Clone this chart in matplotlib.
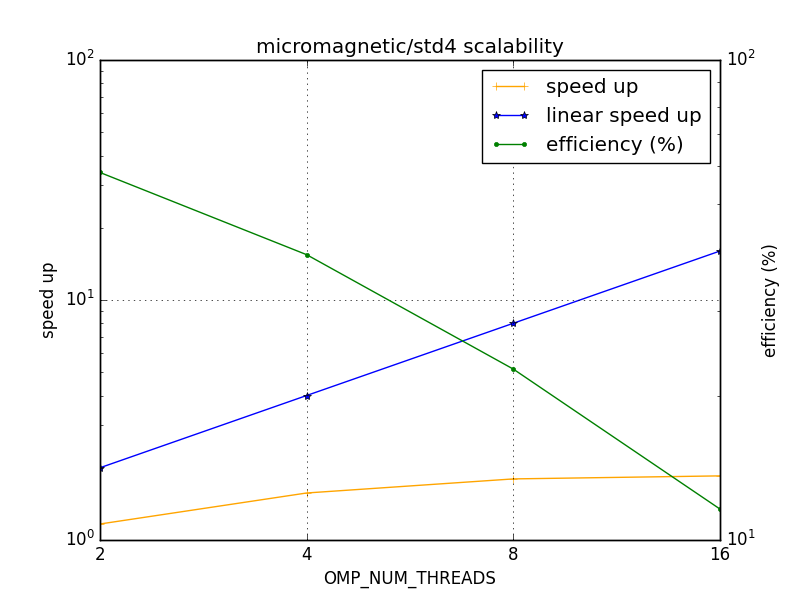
import matplotlib
matplotlib.use("Agg")
import matplotlib.pyplot as plt
from matplotlib.ticker import FixedLocator, FixedFormatter, NullLocator

plt.style.use('classic')

threads = [2, 4, 8, 16]
speed_up = [1.166, 1.57, 1.797, 1.85]
linear_speed_up = [2, 4, 8, 16]
efficiency = [58.3, 39.3, 22.7, 11.6]

fig = plt.figure(figsize=(8, 6), dpi=100, facecolor='white')
ax = fig.add_subplot(111)
l1, = ax.plot(threads, speed_up, color='orange', marker='+', label='speed up')
l2, = ax.plot(threads, linear_speed_up, color='b', marker='*', label='linear speed up')
ax.set_xscale('log', base=2)
ax.set_yscale('log')
ax.set_xlim(2, 16)
ax.set_ylim(1, 100)
ax.xaxis.set_major_locator(FixedLocator(threads))
ax.xaxis.set_major_formatter(FixedFormatter([str(t) for t in threads]))
ax.xaxis.set_minor_locator(NullLocator())
ax.grid(True)
ax.set_xlabel('OMP_NUM_THREADS')
ax.set_ylabel('speed up')
ax.set_title('micromagnetic/std4 scalability')

ax2 = ax.twinx()
l3, = ax2.plot(threads, efficiency, color='g', marker='.', label='efficiency (%)')
ax2.set_yscale('log')
ax2.set_ylim(10, 100)
ax2.set_xlim(2, 16)
ax2.set_ylabel('efficiency (%)')

ax2.legend([l1, l2, l3], [l.get_label() for l in (l1, l2, l3)], loc='upper right')

fig.savefig('out.png', dpi=100, facecolor='white')
